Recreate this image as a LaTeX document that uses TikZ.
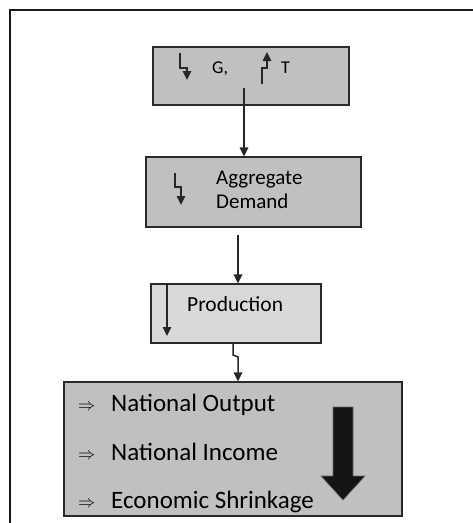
\documentclass[tikz,border=0pt]{standalone}
\usepackage{fontspec}
\setmainfont{Carlito}
\usetikzlibrary{arrows.meta,calc}
\definecolor{boxgray}{HTML}{C0C0C0}
\definecolor{lightbox}{HTML}{D9D9D9}
\definecolor{edge}{HTML}{2A2A2A}
\tikzset{
  box/.style={draw=edge, line width=1.3pt, inner sep=0pt},
  conn/.style={draw=black!85, line width=1.5pt, -{Triangle[length=9pt,width=8.5pt]}},
  icon/.style={draw=black!85, line width=1.6pt, -{Triangle[length=9pt,width=8.5pt]}},
  lbl/.style={inner sep=0pt, anchor=base west},
  bigarrow/.style={fill=black!92, draw=black!60, line width=0.6pt}
}
\begin{document}
\begin{tikzpicture}[x=1pt,y=-1pt]
\useasboundingbox (0,0) rectangle (473,523);
% outer frame (only top and left visible)
\draw[line width=2pt, draw=black!90] (10,530) -- (10,10) -- (480,10);

% boxes
\node[box, fill=boxgray, minimum width=196pt, minimum height=58pt] (b1) at (251,76) {};
\node[box, fill=boxgray, minimum width=215pt, minimum height=70pt] (b2) at (253.5,192) {};
\node[box, fill=lightbox, minimum width=170pt, minimum height=59pt] (b3) at (236,313.5) {};
\node[box, fill=boxgray, minimum width=338pt, minimum height=134pt] (b4) at (233,449) {};

% box 1 contents
\draw[icon] (180,53) -- (180,68) -- (187,68) -- (187,80);
\node[lbl, font=\fontsize{18}{20}\selectfont] (g) at (212,73) {G,};
\draw[icon] (262,84) -- (262,68) -- (267,68) -- (267,52);
\node[lbl, font=\fontsize{18}{20}\selectfont] (t) at (281,73) {T};

% box 2 contents
\draw[icon] (175,173) -- (175,187) -- (181,187) -- (181,205);
\node[lbl, font=\fontsize{21}{23}\selectfont] (ag) at (216,184) {Aggregate};
\node[lbl, font=\fontsize{21}{23}\selectfont] (dm) at (216,208) {Demand};

% box 3 contents
\draw[icon] (167,284) -- (167,336);
\node[lbl, font=\fontsize{21.5}{23}\selectfont] (pr) at (187,311) {Production};

% box 4 contents
\node[lbl, font=\fontsize{19}{21}\selectfont] (a1) at (78,410) {$\Rightarrow$};
\node[lbl, font=\fontsize{25}{28}\selectfont] (t1) at (111,411) {National Output};
\node[lbl, font=\fontsize{19}{21}\selectfont] (a2) at (78,459) {$\Rightarrow$};
\node[lbl, font=\fontsize{25}{28}\selectfont] (t2) at (111,460) {National Income};
\node[lbl, font=\fontsize{19}{21}\selectfont] (a3) at (78,507) {$\Rightarrow$};
\node[lbl, font=\fontsize{25}{28}\selectfont] (t3) at (111,508) {Economic Shrinkage};
\draw[bigarrow] (333,407) -- (353,407) -- (353,476) -- (365,476) -- (343,500) -- (321,476) -- (333,476) -- cycle;

% connectors
\coordinate (c1) at (244,88);
\draw[conn] (c1) -- (c1 |- b2.north);
\coordinate (c2) at (238,235);
\draw[conn] (c2) -- (c2 |- b3.north);
\coordinate (c3) at (233,343);
\coordinate (c4) at (238,357);
\draw[conn] (c3) -- (233,355) -- (c4) -- (c4 |- b4.north);
\end{tikzpicture}
\end{document}
